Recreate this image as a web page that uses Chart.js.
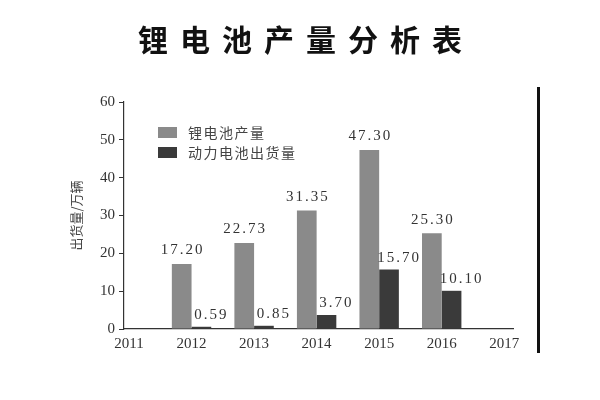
<!DOCTYPE html>
<html>
<head>
<meta charset="utf-8">
<script src="https://cdn.jsdelivr.net/npm/chart.js@4/dist/chart.umd.min.js"></script>
<style>
  html, body { margin:0; padding:0; background:#fff; }
  #wrap { position:relative; width:600px; height:400px; overflow:hidden; background:#fff; }
  #c { position:absolute; left:0; top:0; }
  #title { position:absolute; left:0; top:22px; width:600px; text-align:center;
    font-family:"Noto Sans CJK SC"; font-weight:700; font-size:30px; line-height:32px;
    letter-spacing:12px; text-indent:12px; color:#111; }
  #legend { position:absolute; left:158px; top:122px; font-family:"Noto Sans CJK SC";
    font-size:14px; color:#444; letter-spacing:1.5px; }
  .row { height:20px; line-height:20px; display:flex; align-items:center; }
  .box { width:19px; height:11px; margin-right:11px; display:inline-block; }
  #rline { position:absolute; left:537px; top:87px; width:3px; height:266px; background:#111; }
</style>
</head>
<body>
<div id="wrap">
  <canvas id="c" width="600" height="400"></canvas>
  <div id="title">锂电池产量分析表</div>
  <div id="legend"></div>
  <div id="rline"></div>
</div>
<script>
// ---- data ----
const years = [2012, 2013, 2014, 2015, 2016];
const axisYears = [2011, 2012, 2013, 2014, 2015, 2016, 2017];
const seriesNames = ['锂电池产量', '动力电池出货量'];
const lithiumOutput = [17.20, 22.73, 31.35, 47.30, 25.30];
const powerShipments = [0.59, 0.85, 3.70, 15.70, 10.10];
const yTicks = [0, 10, 20, 30, 40, 50, 60];
const yTitle = '出货量/万辆';
const colors = ['#8a8a8a', '#3a3a3a'];

// legend (HTML)
const lg = document.getElementById('legend');
seriesNames.forEach((n, i) => {
  const r = document.createElement('div'); r.className = 'row';
  const b = document.createElement('span'); b.className = 'box'; b.style.background = colors[i];
  const t = document.createElement('span'); t.textContent = n;
  r.appendChild(b); r.appendChild(t); lg.appendChild(r);
});

const valueLabels = {
  id: 'valueLabels',
  afterDatasetsDraw(chart) {
    const ctx = chart.ctx;
    ctx.save();
    ctx.font = '15px "Liberation Serif"';
    ctx.fillStyle = '#333';
    ctx.textAlign = 'center';
    ctx.textBaseline = 'bottom';
    try { ctx.letterSpacing = '2px'; } catch (e) {}
    chart.data.datasets.forEach((ds, di) => {
      const meta = chart.getDatasetMeta(di);
      meta.data.forEach((el, i) => {
        const v = ds.data[i].y;
        const dx = di === 1 ? 10 : 1;
        const dy = di === 1 ? 4 : 6;
        ctx.fillText(v.toFixed(2), el.x + dx, el.y - dy);
      });
    });
    ctx.restore();
  }
};

const toXY = arr => years.map((yr, i) => ({ x: yr, y: arr[i] }));

new Chart(document.getElementById('c'), {
  type: 'bar',
  data: {
    datasets: [
      { label: seriesNames[0], data: toXY(lithiumOutput), backgroundColor: colors[0] },
      { label: seriesNames[1], data: toXY(powerShipments), backgroundColor: colors[1] }
    ]
  },
  options: {
    responsive: false,
    animation: false,
    layout: { padding: { left: 0, right: 87, top: 102, bottom: 0 } },
    datasets: { bar: { categoryPercentage: 0.63, barPercentage: 1.0 } },
    plugins: { legend: { display: false }, title: { display: false }, tooltip: { enabled: false } },
    scales: {
      x: {
        type: 'linear',
        offset: false,
        min: axisYears[0] - 0.08,
        max: axisYears[axisYears.length - 1] + 0.14,
        afterBuildTicks: s => { s.ticks = axisYears.map(v => ({ value: v })); },
        afterFit: s => { s.height = 71; },
        grid: { display: false, offset: false },
        border: { display: true, color: '#333', width: 1.2 },
        ticks: {
          padding: -2,
          color: '#333',
          font: { family: 'Liberation Serif', size: 15 },
          callback: v => String(v)
        }
      },
      y: {
        min: yTicks[0],
        max: yTicks[yTicks.length - 1],
        afterBuildTicks: s => { s.ticks = yTicks.map(v => ({ value: v })); },
        afterFit: s => { s.width = 124; },
        grid: { drawOnChartArea: false, drawTicks: true, tickLength: 5, color: '#333' },
        border: { display: true, color: '#333', width: 1.2 },
        ticks: {
          padding: 4,
          color: '#333',
          font: { family: 'Liberation Serif', size: 15 }
        },
        title: {
          display: true,
          text: yTitle,
          color: '#444',
          font: { family: 'Noto Sans CJK SC', size: 13 },
          padding: { top: 68, bottom: 0 }
        }
      }
    }
  },
  plugins: [valueLabels]
});
</script>
</body>
</html>
